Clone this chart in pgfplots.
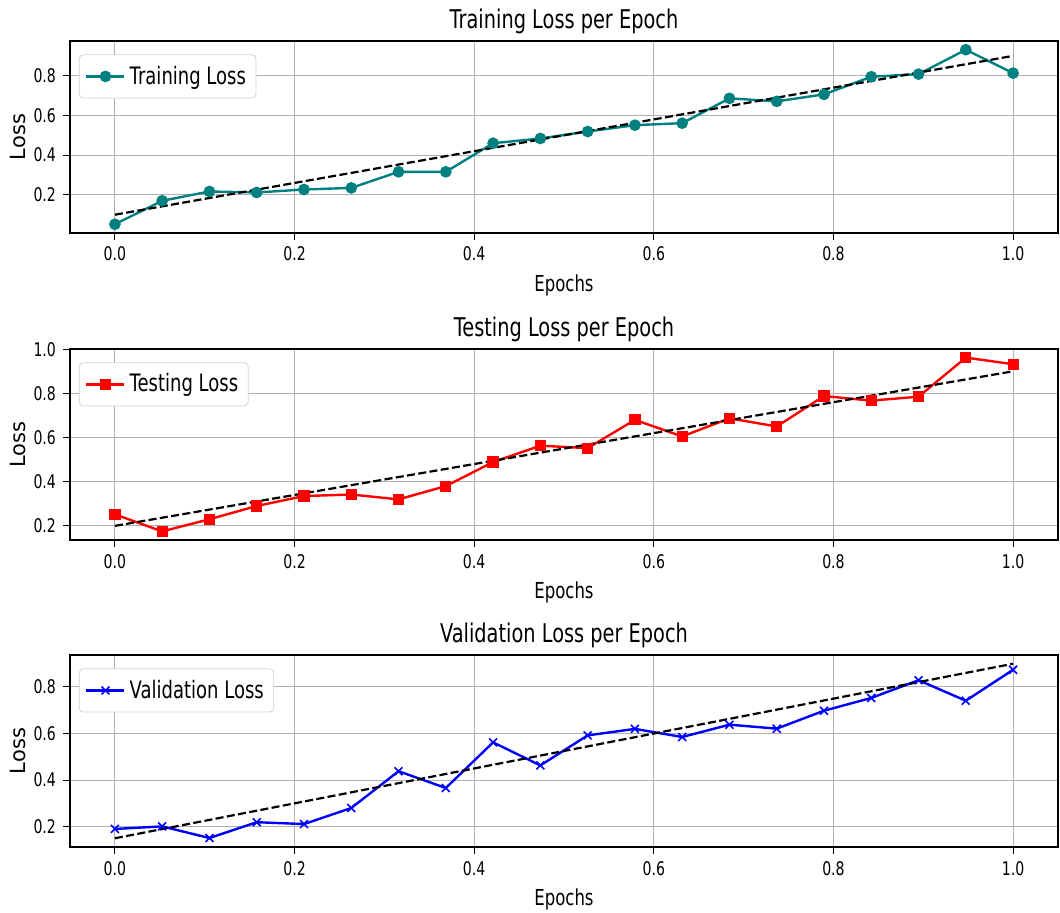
\documentclass[border=0pt]{standalone}
\usepackage{fontspec}
\setmainfont{DejaVu Sans}[FakeStretch=0.75]
\newfontfamily\unstretched{DejaVu Sans}
\usepackage{pgfplots}
\pgfplotsset{compat=1.18}
\definecolor{mteal}{RGB}{0,128,128}
\definecolor{gridgray}{RGB}{176,176,176}
\definecolor{mred}{RGB}{255,0,0}
\definecolor{mblue}{RGB}{0,0,255}

\pgfplotstableread{
x y
0.000000 0.052
0.052632 0.170
0.105263 0.217
0.157895 0.212
0.210526 0.227
0.263158 0.235
0.315789 0.316
0.368421 0.316
0.421053 0.460
0.473684 0.484
0.526316 0.519
0.578947 0.551
0.631579 0.561
0.684211 0.686
0.736842 0.671
0.789474 0.706
0.842105 0.795
0.894737 0.808
0.947368 0.931
1.000000 0.813
}\trainT

\pgfplotstableread{
x y
0.000000 0.252
0.052632 0.175
0.105263 0.230
0.157895 0.290
0.210526 0.335
0.263158 0.342
0.315789 0.320
0.368421 0.380
0.421053 0.489
0.473684 0.563
0.526316 0.552
0.578947 0.680
0.631579 0.605
0.684211 0.687
0.736842 0.650
0.789474 0.788
0.842105 0.767
0.894737 0.785
0.947368 0.962
1.000000 0.932
}\testT

\pgfplotstableread{
x y
0.000000 0.190
0.052632 0.201
0.105263 0.151
0.157895 0.219
0.210526 0.211
0.263158 0.280
0.315789 0.438
0.368421 0.366
0.421053 0.562
0.473684 0.463
0.526316 0.592
0.578947 0.620
0.631579 0.585
0.684211 0.638
0.736842 0.621
0.789474 0.698
0.842105 0.753
0.894737 0.829
0.947368 0.741
1.000000 0.874
}\valT

\pgfplotsset{
  lossax/.style={
    scale only axis, width=494pt, height=96pt,
    xmin=-0.05, xmax=1.05,
    xtick={0,0.2,0.4,0.6,0.8,1.0},
    xticklabels={0.0,0.2,0.4,0.6,0.8,1.0},
    grid=major, grid style={gridgray, line width=0.5pt},
    tick align=outside, xtick pos=bottom, ytick pos=left,
    major tick length=3.5pt,
    tick style={black, line width=0.5pt},
    axis line style={line width=0.6pt},
    ticklabel style={font=\fontsize{9.4}{10}\selectfont},
    label style={font=\fontsize{11}{13}\selectfont},
    xlabel style={yshift=0pt},
    ylabel style={font=\unstretched\fontsize{10.5}{13}\selectfont, yshift=-3pt},
    title style={font=\fontsize{12.9}{15}\selectfont, yshift=-6pt},
    xlabel={Epochs}, ylabel={Loss},
    legend style={at={(0.009,0.93)}, anchor=north west, draw=gray!35,
      rounded corners=2pt, font=\fontsize{12}{14}\selectfont,
      inner xsep=3pt, inner ysep=3.5pt},
    legend cell align=left,
    legend image code/.code={\draw[mark repeat=2,mark phase=2] plot coordinates {(0pt,0pt) (9.5pt,0pt) (19pt,0pt)};},
  },
  trend/.style={black, line width=1.1pt, dash pattern=on 4pt off 1.7pt, forget plot},
}

\begin{document}
\begin{tikzpicture}
\useasboundingbox (0,0) rectangle (530pt,456.5pt);

\begin{axis}[lossax, at={(35pt,436pt)}, anchor=north west,
  ymin=0.008, ymax=0.975,
  ytick={0.2,0.4,0.6,0.8}, yticklabels={0.2,0.4,0.6,0.8},
  title={Training Loss per Epoch}]
\addplot[mteal, line width=1.2pt, mark=*, mark size=2.3pt] table {\trainT};
\addlegendentry{Training Loss}
\addplot[trend] coordinates {(0,0.1) (1,0.9)};
\end{axis}

\begin{axis}[lossax, at={(35pt,282pt)}, anchor=north west, height=95.5pt,
  ymin=0.136, ymax=1.001,
  ytick={0.2,0.4,0.6,0.8,1.0}, yticklabels={0.2,0.4,0.6,0.8,1.0},
  title={Testing Loss per Epoch}]
\addplot[mred, line width=1.2pt, mark=square*, mark size=2.2pt] table {\testT};
\addlegendentry{Testing Loss}
\addplot[trend] coordinates {(0,0.2) (1,0.9)};
\end{axis}

\begin{axis}[lossax, at={(35pt,129pt)}, anchor=north west,
  ymin=0.1125, ymax=0.9375,
  ytick={0.2,0.4,0.6,0.8}, yticklabels={0.2,0.4,0.6,0.8},
  title={Validation Loss per Epoch}]
\addplot[mblue, line width=1.2pt, mark=x, mark size=2.8pt, mark options={line width=0.8pt}] table {\valT};
\addlegendentry{Validation Loss}
\addplot[trend] coordinates {(0,0.15) (1,0.9)};
\end{axis}
\end{tikzpicture}
\end{document}
